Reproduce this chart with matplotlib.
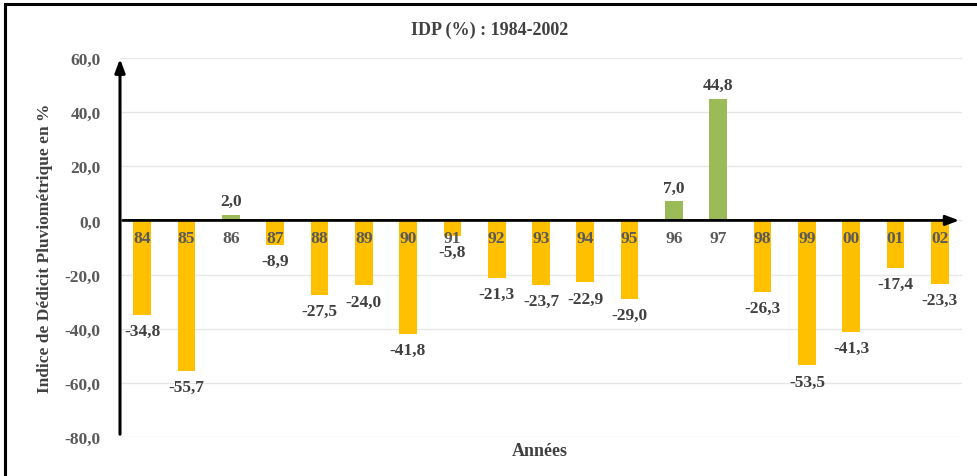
import numpy as np
import matplotlib.pyplot as plt
from matplotlib.patches import Rectangle

years = ['84', '85', '86', '87', '88', '89', '90', '91', '92', '93',
         '94', '95', '96', '97', '98', '99', '00', '01', '02']
idp = [-34.8, -55.7, 2.0, -8.9, -27.5, -24.0, -41.8, -5.8, -21.3, -23.7,
       -22.9, -29.0, 7.0, 44.8, -26.3, -53.5, -41.3, -17.4, -23.3]
yticks = [-80, -60, -40, -20, 0, 20, 40, 60]

plt.rcParams['font.family'] = ['Liberation Serif', 'DejaVu Serif']

fig = plt.figure(figsize=(9.78, 4.77), dpi=100)
ax = fig.add_axes([120 / 978, 1 - 438 / 477, 842 / 978, 379 / 477])

x = np.arange(len(years))
vals = np.array(idp)
colors = ['#9BBB59' if v > 0 else '#FFC000' for v in vals]
ax.bar(x, vals, width=0.4, color=colors, zorder=2)

ax.set_xlim(-0.5, len(years) - 0.5)
ax.set_ylim(-80, 60)
ax.set_yticks(yticks)
ax.set_yticklabels([f'{t:.1f}'.replace('.', ',') for t in yticks],
                   fontsize=12.5, fontweight='bold', color='#595959')
ax.tick_params(axis='y', length=0, pad=14)
ax.set_xticks([])
ax.grid(axis='y', color='#E6E6E6', linewidth=1, zorder=0)
for s in ax.spines.values():
    s.set_visible(False)

# axes with arrows
ax.annotate('', xy=(0, 1.005), xytext=(0, 0), xycoords='axes fraction',
            arrowprops=dict(arrowstyle='-|>,head_length=0.8,head_width=0.3',
                            color='black', lw=2.2), annotation_clip=False)
ax.annotate('', xy=(len(years) - 0.5, 0), xytext=(-0.5, 0), xycoords='data',
            arrowprops=dict(arrowstyle='-|>,head_length=0.8,head_width=0.3',
                            color='black', lw=2), annotation_clip=False, zorder=4)

# category labels just below the zero line
for i, y in enumerate(years):
    ax.text(i, -6.5, y, ha='center', va='center', fontsize=12.5,
            fontweight='bold', color='#595959', zorder=5)

# value labels
for i, v in enumerate(vals):
    lab = f'{v:.1f}'.replace('.', ',')
    if v > 0:
        ax.text(i, v + 2.2, lab, ha='center', va='bottom', fontsize=12.5,
                fontweight='bold', color='#404040')
    else:
        ax.text(i, v - 3.0, lab, ha='center', va='top', fontsize=12.5,
                fontweight='bold', color='#404040')

fig.text(490 / 978, 1 - 30 / 477, 'IDP (%) : 1984-2002', ha='center',
         va='center', fontsize=13, fontweight='bold', color='#404040')
fig.text(45 / 978, 1 - 248 / 477, 'Indice de Dédicit Pluviométrique en %',
         ha='center', va='center', rotation=90, fontsize=12.5,
         fontweight='bold', color='#404040')
fig.text(540 / 978, 1 - 452 / 477, 'Années', ha='center', va='center',
         fontsize=13, fontweight='bold', color='#404040')

# outer frame
fig.add_artist(Rectangle((5 / 978, -0.1), 1.2, 1 - 5 / 477 + 0.1,
                         transform=fig.transFigure, fill=False,
                         edgecolor='black', linewidth=2.2))

fig.savefig('out.png', dpi=100)
